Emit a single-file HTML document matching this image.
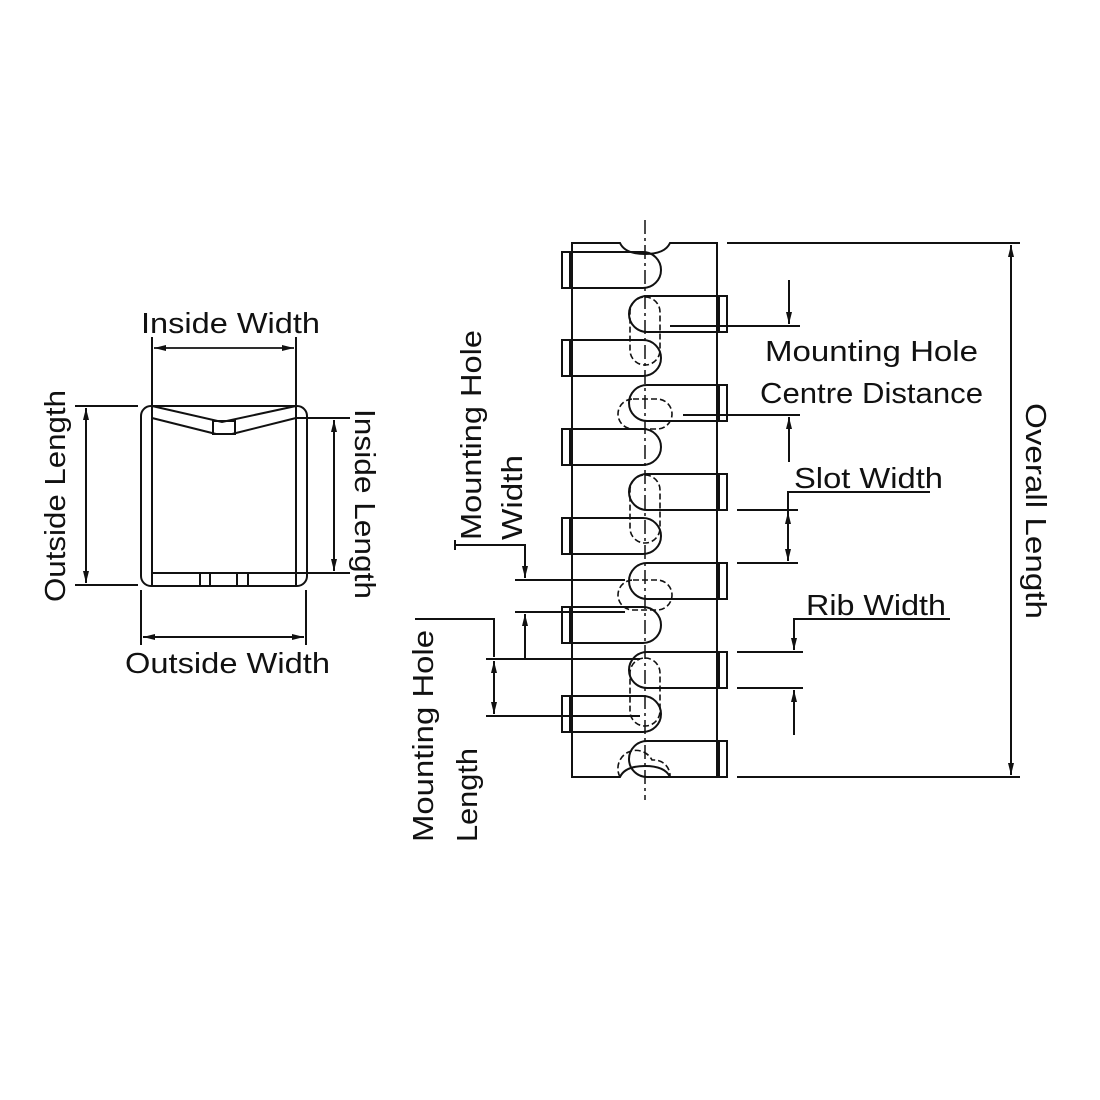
<!DOCTYPE html>
<html><head><meta charset="utf-8"><style>body{margin:0;background:#fff}svg{display:block}text{font-family:"Liberation Sans",sans-serif;font-size:29px;fill:#111}</style></head><body>
<svg width="1100" height="1100" viewBox="0 0 1100 1100" xmlns="http://www.w3.org/2000/svg">
<defs>
<marker id="a" viewBox="0 0 10 10" refX="10" refY="5" markerWidth="12" markerHeight="12" markerUnits="userSpaceOnUse" orient="auto-start-reverse"><path d="M0,2.5L10,5L0,7.5z" fill="#111"/></marker>
</defs>
<g stroke="#111" fill="none" stroke-width="2">
<!-- left view -->
<rect x="141" y="406" width="166" height="180" rx="10"/>
<line x1="152" y1="337" x2="152" y2="586"/>
<line x1="296" y1="337" x2="296" y2="586"/>
<line x1="152" y1="573" x2="296" y2="573"/>
<polyline points="152,406 222,422 296,406"/>
<polyline points="152,418 216,434"/>
<polyline points="232,434 296,418"/>
<rect x="213" y="421" width="22" height="13"/>
<line x1="200" y1="573" x2="200" y2="586"/><line x1="210" y1="573" x2="210" y2="586"/>
<line x1="237" y1="573" x2="237" y2="586"/><line x1="248" y1="573" x2="248" y2="586"/>
<line x1="154" y1="348" x2="294" y2="348" stroke-width="1.8" marker-start="url(#a)" marker-end="url(#a)"/>
<line x1="75" y1="406" x2="138" y2="406"/><line x1="75" y1="585" x2="138" y2="585"/>
<line x1="86" y1="408" x2="86" y2="583" marker-start="url(#a)" marker-end="url(#a)"/>
<line x1="296" y1="418" x2="350" y2="418"/><line x1="296" y1="573" x2="350" y2="573"/>
<line x1="334" y1="420" x2="334" y2="571" marker-start="url(#a)" marker-end="url(#a)"/>
<line x1="141" y1="590" x2="141" y2="645"/><line x1="306" y1="590" x2="306" y2="645"/>
<line x1="143" y1="637" x2="304" y2="637" marker-start="url(#a)" marker-end="url(#a)"/>

<!-- right view body -->
<path d="M572,243 H620 Q625,254 645,254 Q665,254 670,243 H717 V777 H670 Q665,766 645,766 Q625,766 620,777 H572 Z"/>
<line x1="645" y1="220" x2="645" y2="800" stroke-width="1.5" stroke-dasharray="14,4,3,4"/>
<!-- left fingers -->
<g>
<path d="M562,252 H643 A18,18 0 0 1 643,288 H562 Z"/>
<path d="M562,340 H643 A18,18 0 0 1 643,376 H562 Z"/>
<path d="M562,429 H643 A18,18 0 0 1 643,465 H562 Z"/>
<path d="M562,518 H643 A18,18 0 0 1 643,554 H562 Z"/>
<path d="M562,607 H643 A18,18 0 0 1 643,643 H562 Z"/>
<path d="M562,696 H643 A18,18 0 0 1 643,732 H562 Z"/>
</g>
<g stroke-width="4">
<line x1="571" y1="252" x2="571" y2="288"/><line x1="571" y1="340" x2="571" y2="376"/><line x1="571" y1="429" x2="571" y2="465"/><line x1="571" y1="518" x2="571" y2="554"/><line x1="571" y1="607" x2="571" y2="643"/><line x1="571" y1="696" x2="571" y2="732"/>
<line x1="718" y1="296" x2="718" y2="332"/><line x1="718" y1="385" x2="718" y2="421"/><line x1="718" y1="474" x2="718" y2="510"/><line x1="718" y1="563" x2="718" y2="599"/><line x1="718" y1="652" x2="718" y2="688"/><line x1="718" y1="741" x2="718" y2="777"/>
</g>
<!-- right fingers -->
<g>
<path d="M727,296 H647 A18,18 0 0 0 647,332 H727 Z"/>
<path d="M727,385 H647 A18,18 0 0 0 647,421 H727 Z"/>
<path d="M727,474 H647 A18,18 0 0 0 647,510 H727 Z"/>
<path d="M727,563 H647 A18,18 0 0 0 647,599 H727 Z"/>
<path d="M727,652 H647 A18,18 0 0 0 647,688 H727 Z"/>
<path d="M727,741 H647 A18,18 0 0 0 647,777 H727 Z"/>
</g>
<!-- dashed holes -->
<g stroke-width="1.6" stroke-dasharray="6,3">
<rect x="630" y="297" width="30" height="68" rx="15"/>
<rect x="618" y="399" width="54" height="30" rx="15"/>
<rect x="630" y="475" width="30" height="68" rx="15"/>
<rect x="618" y="580" width="54" height="30" rx="15"/>
<rect x="630" y="658" width="30" height="68" rx="15"/>
<path d="M620,777 A16,16 0 0 1 652,760 H655 A16,16 0 0 1 670,777"/>
</g>
<!-- overall -->
<line x1="727" y1="243" x2="1020" y2="243"/><line x1="737" y1="777" x2="1020" y2="777"/>
<line x1="1011" y1="245" x2="1011" y2="775" marker-start="url(#a)" marker-end="url(#a)"/>
<!-- centre distance -->
<line x1="670" y1="326" x2="800" y2="326"/><line x1="683" y1="415" x2="800" y2="415"/>
<line x1="789" y1="280" x2="789" y2="324" marker-end="url(#a)"/>
<line x1="789" y1="462" x2="789" y2="417" marker-end="url(#a)"/>
<!-- slot width -->
<line x1="737" y1="510" x2="798" y2="510"/><line x1="737" y1="563" x2="798" y2="563"/>
<polyline points="930,492 788,492 788,512"/>
<line x1="788" y1="512" x2="788" y2="561" marker-start="url(#a)" marker-end="url(#a)"/>
<!-- rib width -->
<line x1="737" y1="652" x2="803" y2="652"/><line x1="737" y1="688" x2="803" y2="688"/>
<polyline points="950,619 794,619 794,650" marker-end="url(#a)"/>
<line x1="794" y1="735" x2="794" y2="690" marker-end="url(#a)"/>
<!-- mounting hole width -->
<line x1="515" y1="580" x2="625" y2="580"/><line x1="515" y1="612" x2="625" y2="612"/>
<polyline points="455,545 525,545 525,578" marker-end="url(#a)"/>
<line x1="525" y1="659" x2="525" y2="614" marker-end="url(#a)"/>
<line x1="455" y1="540" x2="455" y2="550"/>
<!-- mounting hole length -->
<line x1="486" y1="659" x2="640" y2="659"/><line x1="486" y1="716" x2="640" y2="716"/>
<polyline points="415,619 494,619 494,657"/>
<line x1="494" y1="661" x2="494" y2="714" marker-start="url(#a)" marker-end="url(#a)"/>
</g>
<text x="141" y="333" textLength="179" lengthAdjust="spacingAndGlyphs">Inside Width</text>
<text x="125" y="673" textLength="205" lengthAdjust="spacingAndGlyphs">Outside Width</text>
<text transform="translate(65,602) rotate(-90)" textLength="212" lengthAdjust="spacingAndGlyphs">Outside Length</text>
<text transform="translate(355,409) rotate(90)" textLength="190" lengthAdjust="spacingAndGlyphs">Inside Length</text>
<text transform="translate(1026,403) rotate(90)" textLength="216" lengthAdjust="spacingAndGlyphs">Overall Length</text>
<text x="765" y="361" textLength="213" lengthAdjust="spacingAndGlyphs">Mounting Hole</text>
<text x="760" y="403" textLength="223" lengthAdjust="spacingAndGlyphs">Centre Distance</text>
<text x="794" y="488" textLength="149" lengthAdjust="spacingAndGlyphs">Slot Width</text>
<text x="806" y="615" textLength="140" lengthAdjust="spacingAndGlyphs">Rib Width</text>
<text transform="translate(481,540) rotate(-90)" textLength="210" lengthAdjust="spacingAndGlyphs">Mounting Hole</text>
<text transform="translate(522,540) rotate(-90)" textLength="85" lengthAdjust="spacingAndGlyphs">Width</text>
<text transform="translate(433,842) rotate(-90)" textLength="212" lengthAdjust="spacingAndGlyphs">Mounting Hole</text>
<text transform="translate(477,842) rotate(-90)" textLength="94" lengthAdjust="spacingAndGlyphs">Length</text>
</svg>
</body></html>
